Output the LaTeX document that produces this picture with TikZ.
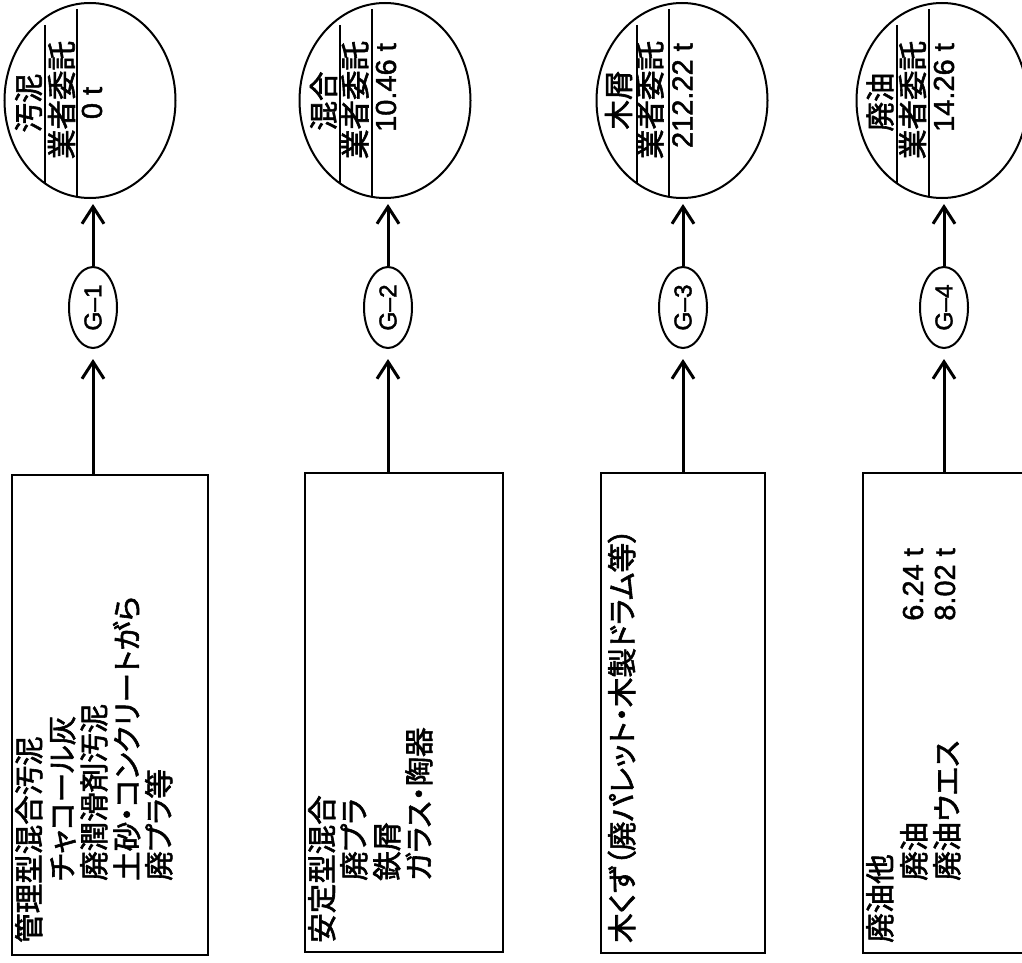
\documentclass[tikz,border=0pt]{standalone}
\usepackage{fontspec}
\usepackage{graphicx}
\setmainfont{Noto Sans CJK JP}[RawFeature=+palt, FakeBold=2]
\newfontfamily\lat{Liberation Sans}[FakeBold=1.5]
\usetikzlibrary{arrows.meta,shapes.geometric}
\begin{document}
\begin{tikzpicture}[x=1pt,y=-1pt,
  bigell/.style={draw, ellipse, line width=2pt, minimum width=171pt, minimum height=195pt, inner sep=0pt},
  gell/.style={draw, ellipse, line width=2pt, minimum width=48pt, minimum height=81pt, inner sep=0pt, font=\lat\fontsize{24.5}{24.5}\selectfont},
  boxr/.style={draw, rectangle, line width=2.7pt, inner sep=0pt},
  arr/.style={line width=3pt, -{Straight Barb[length=17pt,width=22pt,line width=3pt]}},
  jtxt/.style={rotate=90, inner sep=0pt, font=\fontsize{29.5}{29.5}\selectfont},
  ntxt/.style={rotate=90, inner sep=0pt, font=\lat\fontsize{29}{29}\selectfont},
  strip/.style={line width=2pt}]
\useasboundingbox (0,0) rectangle (1022,963);
\clip (0,0) rectangle (1022,963);

% ---------- column 1 ----------
\node[bigell] (c1) at (90,100.5) {};
\draw[strip] (44.5,25) -- (44.5,183);
\draw[strip] (76.5,9) -- (76.5,196.8);
\node[jtxt] (c1a) at (28.5,103) {汚泥};
\node[jtxt] (c1b) at (61.5,100) {業者委託};
\node[ntxt] (c1c) at (92,103) {0 t};
\node[gell] (g1) at (93,307.5) {\rotatebox{90}{G–1}};
\node[boxr, minimum width=196pt, minimum height=480pt] (r1) at (110,715) {};
\node[jtxt, anchor=base west] (t11) at (40,943) {管理型混合汚泥};
\node[jtxt, anchor=base west] (t12) at (73,881) {チャコール灰};
\node[jtxt, anchor=base west] (t13) at (105,881) {廃潤滑剤汚泥};
\node[jtxt, anchor=base west] (t14) at (138,881) {土砂・コンクリートがら};
\node[jtxt, anchor=base west] (t15) at (170,881) {廃プラ等};
\draw[arr, shorten >=10pt] (g1.south |- r1.north) -- (g1.south);
\draw[arr, shorten >=5pt] (g1.north) -- (g1.north |- c1.south);

% ---------- column 2 ----------
\node[bigell] (c2) at (385,100.5) {};
\draw[strip] (339.5,25) -- (339.5,183);
\draw[strip] (371.5,9) -- (371.5,196.8);
\node[jtxt] (c2a) at (323.5,101) {混合};
\node[jtxt] (c2b) at (355,100) {業者委託};
\node[ntxt, anchor=east] (c2c) at (386,43) {10.46 t};
\node[gell] (g2) at (388,307.5) {\rotatebox{90}{G–2}};
\node[boxr, minimum width=198pt, minimum height=479pt] (r2) at (404,712.5) {};
\node[jtxt, anchor=base west] (t21) at (333,943) {安定型混合};
\node[jtxt, anchor=base west] (t22) at (365,881) {廃プラ};
\node[jtxt, anchor=base west] (t23) at (398,881) {鉄屑};
\node[jtxt, anchor=base west] (t24) at (430,881) {ガラス・陶器};
\draw[arr, shorten >=10pt] (g2.south |- r2.north) -- (g2.south);
\draw[arr, shorten >=5pt] (g2.north) -- (g2.north |- c2.south);

% ---------- column 3 ----------
\node[bigell] (c3) at (682,100.5) {};
\draw[strip] (636.5,25) -- (636.5,183);
\draw[strip] (668.5,9) -- (668.5,196.8);
\node[jtxt] (c3a) at (618.5,100) {木屑};
\node[jtxt] (c3b) at (650,100) {業者委託};
\node[ntxt, anchor=east] (c3c) at (682.5,43) {212.22 t};
\node[gell] (g3) at (683,307.5) {\rotatebox{90}{G–3}};
\node[boxr, minimum width=164pt, minimum height=480pt] (r3) at (683,713) {};
\node[jtxt, anchor=base west] (t31) at (633,943) {木くず（廃パレット・木製ドラム等）};
\draw[arr, shorten >=10pt] (g3.south |- r3.north) -- (g3.south);
\draw[arr, shorten >=5pt] (g3.north) -- (g3.north |- c3.south);

% ---------- column 4 ----------
\node[bigell] (c4) at (942,100.5) {};
\draw[strip] (896.5,25) -- (896.5,183);
\draw[strip] (928.5,9) -- (928.5,196.8);
\node[jtxt] (c4a) at (880,102) {廃油};
\node[jtxt] (c4b) at (912.5,100) {業者委託};
\node[ntxt, anchor=east] (c4c) at (944,43) {14.26 t};
\node[gell] (g4) at (944,307.5) {\rotatebox{90}{G–4}};
\node[boxr, minimum width=198pt, minimum height=480pt] (r4) at (962,713) {};
\node[jtxt, anchor=base west] (t41) at (891,943) {廃油他};
\node[jtxt, anchor=base west] (t42) at (925,881) {廃油};
\node[jtxt, anchor=base west] (t43) at (958,881) {廃油ウエス};
\node[ntxt, anchor=base east] (t44) at (923,548) {6.24 t};
\node[ntxt, anchor=base east] (t45) at (955,548) {8.02 t};
\draw[arr, shorten >=10pt] (g4.south |- r4.north) -- (g4.south);
\draw[arr, shorten >=5pt] (g4.north) -- (g4.north |- c4.south);
\end{tikzpicture}
\end{document}
